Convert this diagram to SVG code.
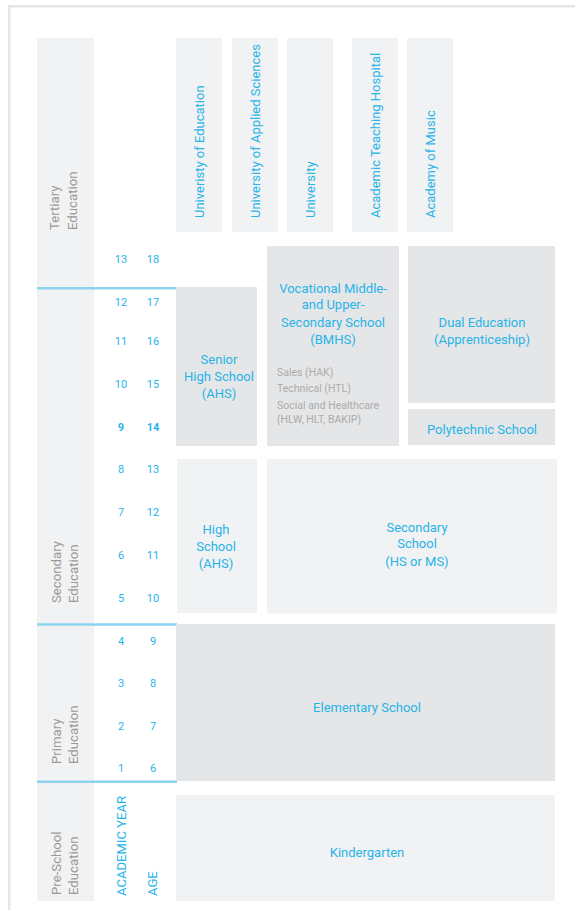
<svg xmlns="http://www.w3.org/2000/svg" width="575" height="910" viewBox="0 0 575 910">
<style>
.lt{fill:#f1f2f3}
.dk{fill:#e5e6e7}
.t{font-family:Roboto,"Liberation Sans",sans-serif;font-size:13px;fill:#27b4e9;text-anchor:middle}
.vt{font-family:Roboto,"Liberation Sans",sans-serif;font-size:13px;fill:#27b4e9}
.lb{font-family:Roboto,"Liberation Sans",sans-serif;font-size:13.2px;fill:#9a9a9a}
.sm{font-family:Roboto,"Liberation Sans",sans-serif;font-size:10.5px;fill:#ababab}
.n{font-family:Roboto,"Liberation Sans",sans-serif;font-size:11px;fill:#27b4e9;text-anchor:middle}
.bl{stroke:#8dd3f0;stroke-width:2.5}
</style>
<rect width="575" height="910" fill="#fff"/>
<path d="M9.2 910 V6.2 H575" fill="none" stroke="#e6e6e6" stroke-width="2.5"/>

<g id="col-tertiary">
<rect class="lt" x="37" y="38" width="57" height="250"/>
<text class="lb" transform="translate(59,230) rotate(-90)">Tertiary</text>
<text class="lb" transform="translate(76.5,230) rotate(-90)">Education</text>
</g>
<g id="col-secondary">
<rect class="lt" x="37" y="289" width="57" height="335"/>
<text class="lb" transform="translate(61,603) rotate(-90)">Secondary</text>
<text class="lb" transform="translate(77.5,603) rotate(-90)">Education</text>
</g>
<g id="col-primary">
<rect class="lt" x="37" y="625" width="57" height="157"/>
<text class="lb" transform="translate(61,764) rotate(-90)">Primary</text>
<text class="lb" transform="translate(77.5,764) rotate(-90)">Education</text>
</g>
<g id="col-preschool">
<rect class="lt" x="37" y="782" width="57" height="119"/>
<text class="lb" transform="translate(61,895) rotate(-90)">Pre-School</text>
<text class="lb" transform="translate(77.5,895) rotate(-90)">Education</text>
</g>

<g id="lines">
<line class="bl" x1="37" y1="288.2" x2="177" y2="288.2"/>
<line class="bl" x1="37" y1="624.5" x2="177" y2="624.5"/>
<line class="bl" x1="37" y1="781.8" x2="177" y2="781.8"/>
</g>

<g id="numbers">
<text class="n" x="121" y="263">13</text><text class="n" x="153" y="263">18</text>
<text class="n" x="121" y="306">12</text><text class="n" x="153" y="306">17</text>
<text class="n" x="121" y="345">11</text><text class="n" x="153" y="345">16</text>
<text class="n" x="121" y="388">10</text><text class="n" x="153" y="388">15</text>
<text class="n" x="121" y="431" font-weight="bold">9</text><text class="n" x="153" y="431" font-weight="bold">14</text>
<text class="n" x="121" y="473">8</text><text class="n" x="153" y="473">13</text>
<text class="n" x="121" y="516">7</text><text class="n" x="153" y="516">12</text>
<text class="n" x="121" y="559">6</text><text class="n" x="153" y="559">11</text>
<text class="n" x="121" y="602">5</text><text class="n" x="153" y="602">10</text>
<text class="n" x="121" y="645">4</text><text class="n" x="153" y="645">9</text>
<text class="n" x="121" y="687">3</text><text class="n" x="153" y="687">8</text>
<text class="n" x="121" y="730">2</text><text class="n" x="153" y="730">7</text>
<text class="n" x="121" y="772">1</text><text class="n" x="153" y="772">6</text>
<text class="vt" transform="translate(125.5,896) rotate(-90)" textLength="100" lengthAdjust="spacingAndGlyphs">ACADEMIC YEAR</text>
<text class="vt" transform="translate(157,896) rotate(-90)">AGE</text>
</g>

<g id="univ-education">
<rect class="lt" x="176" y="38" width="46" height="194"/>
<text class="vt" transform="translate(204,218) rotate(-90)">Univeristy of Education</text>
</g>
<g id="univ-applied">
<rect class="lt" x="232" y="38" width="46" height="194"/>
<text class="vt" transform="translate(260,218) rotate(-90)">University of Applied Sciences</text>
</g>
<g id="university">
<rect class="lt" x="287" y="38" width="46" height="194"/>
<text class="vt" transform="translate(314.5,218) rotate(-90)">University</text>
</g>
<g id="hospital">
<rect class="lt" x="352" y="38" width="46" height="194"/>
<text class="vt" transform="translate(380,218) rotate(-90)">Academic Teaching Hospital</text>
</g>
<g id="music">
<rect class="lt" x="407" y="38" width="46" height="194"/>
<text class="vt" transform="translate(435,218) rotate(-90)">Academy of Music</text>
</g>

<g id="senior-high">
<rect class="dk" x="176" y="287" width="81" height="159"/>
<text class="t" x="219" y="363.5">Senior</text>
<text class="t" x="219" y="380.5">High School</text>
<text class="t" x="219" y="397.5">(AHS)</text>
</g>
<g id="bmhs">
<rect class="dk" x="267" y="246" width="132" height="200"/>
<text class="t" x="333" y="292.5">Vocational Middle-</text>
<text class="t" x="333" y="309">and Upper-</text>
<text class="t" x="333" y="326.5">Secondary School</text>
<text class="t" x="333" y="343.5">(BMHS)</text>
<text class="sm" x="277" y="376">Sales (HAK)</text>
<text class="sm" x="277" y="392">Technical (HTL)</text>
<text class="sm" x="277" y="409">Social and Healthcare</text>
<text class="sm" x="277" y="423">(HLW, HLT, BAKIP)</text>
</g>
<g id="dual">
<rect class="dk" x="408" y="246" width="147" height="157"/>
<text class="t" x="482" y="326.5">Dual Education</text>
<text class="t" x="482" y="343.5">(Apprenticeship)</text>
</g>
<g id="polytechnic">
<rect class="dk" x="408" y="409" width="147" height="36"/>
<text class="t" x="482" y="433.5">Polytechnic School</text>
</g>
<g id="high-school">
<rect class="lt" x="177" y="459" width="80" height="154"/>
<text class="t" x="216" y="533.5">High</text>
<text class="t" x="216" y="551">School</text>
<text class="t" x="216" y="567.5">(AHS)</text>
</g>
<g id="secondary-school">
<rect class="lt" x="267" y="459" width="290" height="154.5"/>
<text class="t" x="417" y="531.5">Secondary</text>
<text class="t" x="417" y="548">School</text>
<text class="t" x="417" y="565.5">(HS or MS)</text>
</g>
<g id="elementary">
<rect class="dk" x="176" y="624" width="379" height="157"/>
<text class="t" x="367" y="711.5">Elementary School</text>
</g>
<g id="kindergarten">
<rect class="lt" x="176" y="795" width="379" height="106"/>
<text class="t" x="367" y="856.5">Kindergarten</text>
</g>
</svg>
